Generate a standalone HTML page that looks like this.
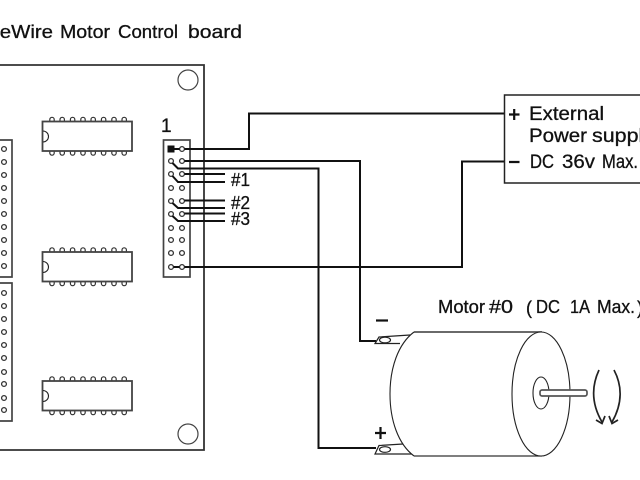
<!DOCTYPE html>
<html>
<head>
<meta charset="utf-8">
<style>
html,body{margin:0;padding:0;background:#fff;width:640px;height:480px;overflow:hidden}
svg{display:block}
text{font-family:"Liberation Sans",sans-serif;fill:#111;stroke:#111;stroke-width:0.3}
</style>
</head>
<body>
<svg width="640" height="480" viewBox="0 0 640 480" xmlns="http://www.w3.org/2000/svg">
<rect width="640" height="480" fill="#fff"/>
<g font-size="18.5">
<text x="-24" y="38" textLength="77" lengthAdjust="spacingAndGlyphs">FireWire</text>
<text x="60" y="38" textLength="50" lengthAdjust="spacingAndGlyphs">Motor</text>
<text x="118" y="38" textLength="60" lengthAdjust="spacingAndGlyphs">Control</text>
<text x="188" y="38" textLength="54" lengthAdjust="spacingAndGlyphs">board</text>
</g>

<!-- board -->
<path d="M-5 65H204V450H-5" fill="none" stroke="#333" stroke-width="1.8"/>
<circle cx="188" cy="80" r="10" fill="none" stroke="#444" stroke-width="1.2"/>
<circle cx="188" cy="434" r="10" fill="none" stroke="#444" stroke-width="1.2"/>

<!-- left connectors -->
<g fill="none" stroke="#444" stroke-width="1.7">
<path d="M-2 140H12V277H-2"/>
<path d="M-2 283H12V421H-2"/>
</g>
<g fill="#fff" stroke="#333" stroke-width="1.3">
<circle cx="4" cy="149" r="2.4"/><circle cx="4" cy="162" r="2.4"/><circle cx="4" cy="175" r="2.4"/><circle cx="4" cy="188" r="2.4"/><circle cx="4" cy="201" r="2.4"/><circle cx="4" cy="214" r="2.4"/><circle cx="4" cy="227" r="2.4"/><circle cx="4" cy="240" r="2.4"/><circle cx="4" cy="253" r="2.4"/><circle cx="4" cy="266" r="2.4"/>
<circle cx="4" cy="293" r="2.4"/><circle cx="4" cy="306" r="2.4"/><circle cx="4" cy="319" r="2.4"/><circle cx="4" cy="332" r="2.4"/><circle cx="4" cy="345" r="2.4"/><circle cx="4" cy="358" r="2.4"/><circle cx="4" cy="372" r="2.4"/><circle cx="4" cy="384" r="2.4"/><circle cx="4" cy="398" r="2.4"/><circle cx="4" cy="410" r="2.4"/>
</g>

<!-- ICs -->
<defs>
<g id="ic">
<g fill="#fff" stroke="#333" stroke-width="1.2">
<path d="M49.8 121.5v-2a2.2 2.2 0 0 1 4.4 0v2"/><path d="M60 121.5v-2a2.2 2.2 0 0 1 4.4 0v2"/><path d="M70.4 121.5v-2a2.2 2.2 0 0 1 4.4 0v2"/><path d="M80.8 121.5v-2a2.2 2.2 0 0 1 4.4 0v2"/><path d="M91 121.5v-2a2.2 2.2 0 0 1 4.4 0v2"/><path d="M101.4 121.5v-2a2.2 2.2 0 0 1 4.4 0v2"/><path d="M111.8 121.5v-2a2.2 2.2 0 0 1 4.4 0v2"/><path d="M122 121.5v-2a2.2 2.2 0 0 1 4.4 0v2"/>
<path d="M49.8 151v2a2.2 2.2 0 0 0 4.4 0v-2"/><path d="M60 151v2a2.2 2.2 0 0 0 4.4 0v-2"/><path d="M70.4 151v2a2.2 2.2 0 0 0 4.4 0v-2"/><path d="M80.8 151v2a2.2 2.2 0 0 0 4.4 0v-2"/><path d="M91 151v2a2.2 2.2 0 0 0 4.4 0v-2"/><path d="M101.4 151v2a2.2 2.2 0 0 0 4.4 0v-2"/><path d="M111.8 151v2a2.2 2.2 0 0 0 4.4 0v-2"/><path d="M122 151v2a2.2 2.2 0 0 0 4.4 0v-2"/>
</g>
<rect x="42.5" y="121.5" width="89.5" height="29.5" fill="#fff" stroke="#444" stroke-width="1.8"/>
<path d="M43 131a5.5 5.5 0 0 1 0 11" fill="none" stroke="#222" stroke-width="1.1"/>
</g>
</defs>
<use href="#ic"/>
<use href="#ic" y="130.5"/>
<use href="#ic" y="259.5"/>

<!-- header -->
<rect x="163.5" y="140" width="26.5" height="137" fill="#fff" stroke="#444" stroke-width="1.7"/>
<text x="161" y="132" font-size="19">1</text>
<rect x="167.5" y="145.5" width="7" height="7" fill="#111"/>
<g fill="#fff" stroke="#333" stroke-width="1.3">
<circle cx="182" cy="149" r="2.4"/>
<circle cx="171" cy="161" r="2.4"/><circle cx="182" cy="161" r="2.4"/>
<circle cx="171" cy="174" r="2.4"/><circle cx="182" cy="174" r="2.4"/>
<circle cx="171" cy="188" r="2.4"/><circle cx="182" cy="188" r="2.4"/>
<circle cx="171" cy="201" r="2.4"/><circle cx="182" cy="201" r="2.4"/>
<circle cx="171" cy="214" r="2.4"/><circle cx="182" cy="214" r="2.4"/>
<circle cx="171" cy="228" r="2.4"/><circle cx="182" cy="228" r="2.4"/>
<circle cx="171" cy="240" r="2.4"/><circle cx="182" cy="240" r="2.4"/>
<circle cx="171" cy="253" r="2.4"/><circle cx="182" cy="253" r="2.4"/>
<circle cx="171" cy="267" r="2.4"/><circle cx="182" cy="267" r="2.4"/>
</g>

<!-- wires -->
<g fill="none" stroke="#111" stroke-width="2">
<path d="M174 149H179.5M184.5 149H249V113.5H505"/>
<path d="M184.5 161H360V341H376"/>
<path d="M172.5 163L178 168.5H318.5V448H376"/>
<path d="M184.5 174H225"/>
<path d="M172.5 176L178 182H225"/>
<path d="M184.5 200.5H225"/>
<path d="M172.5 203L178 208H225"/>
<path d="M184.5 213.5H225"/>
<path d="M172.5 216L178 221H225"/>
<path d="M173.5 267H179.5M184.5 267H462V161.5H505"/>
</g>
<g font-size="18">
<text x="231" y="186" textLength="19" lengthAdjust="spacingAndGlyphs">#1</text>
<text x="231" y="209" textLength="19" lengthAdjust="spacingAndGlyphs">#2</text>
<text x="231" y="225" textLength="19" lengthAdjust="spacingAndGlyphs">#3</text>
</g>

<!-- power supply -->
<path d="M650 95H504.5V183H650" fill="#fff" stroke="#222" stroke-width="1.5"/>
<path d="M509 114.5H519.5M514.2 109V120M509 162H519.5" stroke="#111" stroke-width="2.2" fill="none"/>
<g font-size="19">
<text x="529" y="120" textLength="75" lengthAdjust="spacingAndGlyphs">External</text>
<text x="529" y="142" textLength="58" lengthAdjust="spacingAndGlyphs">Power</text>
<text x="592" y="142" textLength="62" lengthAdjust="spacingAndGlyphs">supply</text>
<text x="530" y="168" textLength="24" lengthAdjust="spacingAndGlyphs">DC</text>
<text x="562" y="168" textLength="33" lengthAdjust="spacingAndGlyphs">36v</text>
<text x="602" y="168" textLength="36" lengthAdjust="spacingAndGlyphs">Max.</text>
</g>

<!-- motor labels -->
<g font-size="18">
<text x="438" y="313" textLength="47" lengthAdjust="spacingAndGlyphs">Motor</text>
<text x="489" y="313" textLength="24" lengthAdjust="spacingAndGlyphs">#0</text>
<text x="526" y="314">(</text>
<text x="536" y="313" textLength="24" lengthAdjust="spacingAndGlyphs">DC</text>
<text x="570" y="313" textLength="20" lengthAdjust="spacingAndGlyphs">1A</text>
<text x="597" y="313" textLength="38" lengthAdjust="spacingAndGlyphs">Max.</text>
<text x="637" y="314">)</text>
</g>
<path d="M376 320.5H388" stroke="#111" stroke-width="2.2" fill="none"/>
<path d="M375 433H386M380.5 427V439" stroke="#111" stroke-width="2.2" fill="none"/>

<!-- terminals -->
<g fill="#fff" stroke="#222" stroke-width="1.2">
<path d="M410 335L379 337L375 343.5H400"/>
<ellipse cx="385" cy="340" rx="5.5" ry="2.8"/>
<path d="M403 444L379 445.5L375 454H412"/>
<ellipse cx="385" cy="449.5" rx="5.5" ry="2.8"/>
</g>

<!-- motor -->
<path d="M414 332H545A29 62 0 0 1 545 456H414C398 444 390 420 390 394C390 368 398 344 414 332Z" fill="#fff" stroke="none"/>
<path d="M414 332H542" stroke="#555" stroke-width="1.8" fill="none"/>
<path d="M414 456H542" stroke="#333" stroke-width="1.2" fill="none"/>
<path d="M414 332C398 344 390 368 390 394C390 420 398 444 414 456" fill="none" stroke="#222" stroke-width="1.1"/>
<ellipse cx="541" cy="394" rx="29" ry="62" fill="#fff" stroke="#222" stroke-width="1.1"/>
<ellipse cx="541" cy="393" rx="8" ry="16" fill="#fff" stroke="#222" stroke-width="1.1"/>
<rect x="540" y="390" width="47" height="6" rx="2" fill="#fff" stroke="#555" stroke-width="1.7"/>

<!-- rotation arrows -->
<g fill="none" stroke="#222" stroke-width="1.7">
<path d="M599 370C592 385 591 403 602 422"/>
<path d="M614 370C622 385 623 403 612 422"/>
<path d="M596 420L602 423.5L605 416"/>
<path d="M618 420L612 423.5L609 416"/>
</g>
</svg>
</body>
</html>
